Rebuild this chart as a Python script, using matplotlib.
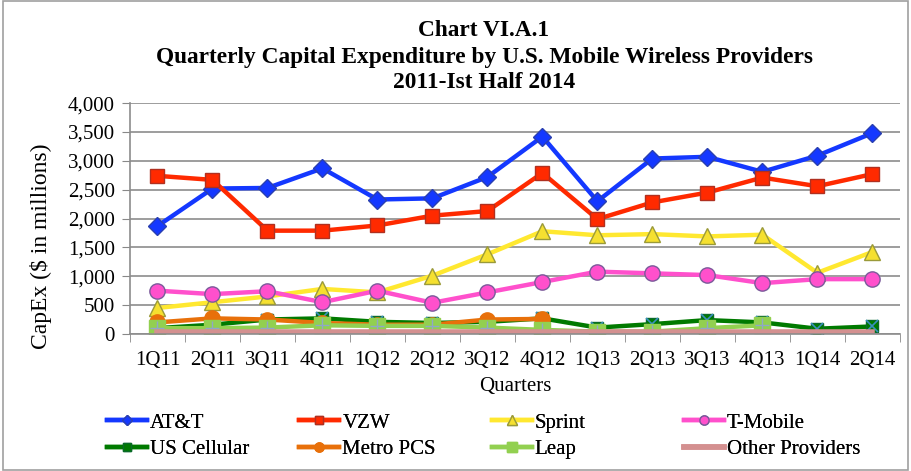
import matplotlib.pyplot as plt
from matplotlib.patches import Rectangle
from matplotlib.ticker import FuncFormatter, FixedLocator

# Data ($ millions)
quarters = ['1Q11', '2Q11', '3Q11', '4Q11', '1Q12', '2Q12', '3Q12',
            '4Q12', '1Q13', '2Q13', '3Q13', '4Q13', '1Q14', '2Q14']
att = [1870, 2520, 2530, 2870, 2330, 2350, 2720, 3420, 2300, 3040, 3070, 2810, 3090, 3480]
vzw = [2740, 2670, 1790, 1790, 1880, 2050, 2130, 2790, 1990, 2280, 2450, 2710, 2560, 2770]
sprint = [450, 550, 650, 780, 720, 1010, 1380, 1780, 1710, 1730, 1690, 1720, 1060, 1420]
tmobile = [750, 690, 740, 550, 750, 540, 720, 900, 1080, 1050, 1020, 880, 950, 950]
uscellular = [100, 160, 250, 270, 210, 190, 210, 270, 110, 170, 240, 200, 90, 130]
metropcs = [200, 270, 250, 190, 160, 160, 250, 260]
leap = [100, 100, 110, 150, 140, 140, 110, 70, 40, 40, 100, 150]
other = [30] * 14

plt.rcParams['font.family'] = ['Liberation Serif', 'DejaVu Serif']

fig = plt.figure(figsize=(9.11, 4.71), dpi=100)
ax = fig.add_axes([0.1427, 0.291, 0.845, 0.49])

x = list(range(len(quarters)))

h_att, = ax.plot(x, att, color='#1438FF', lw=3.2, marker='D', ms=9, mfc='#1438FF', mec='#2A3FB0', label='AT&T')
h_vzw, = ax.plot(x, vzw, color='#FF2A00', lw=3.2, marker='s', ms=10, mfc='#FF2A00', mec='#B03020', label='VZW')
h_spr, = ax.plot(x, sprint, color='#FFE830', lw=3.2, marker='^', ms=11, mfc='#F5E030', mec='#9A9A3A', label='Sprint')
h_tmo, = ax.plot(x, tmobile, color='#FF50CC', lw=3.2, marker='o', ms=11, mfc='#FF50CC', mec='#7A5A9A', label='T-Mobile')
h_usc, = ax.plot(x, uscellular, color='#007A00', lw=3.2, marker='s', ms=9, mfc='#007A00', mec='#0A6A2A', label='US Cellular')
ax.plot(x, uscellular, ls='none', marker='x', ms=8, mew=1.2, color='#3A8FC0')
h_mpc, = ax.plot(x[:len(metropcs)], metropcs, color='#E8700A', lw=3.2, marker='o', ms=11, mfc='#E8700A', mec='#E8700A', label='Metro PCS')
h_lea, = ax.plot(x[:len(leap)], leap, color='#92D050', lw=3.2, marker='s', ms=11, mfc='#92D050', mec='#92D050', label='Leap')
ax.plot(x[:len(leap)], leap, ls='none', marker='+', ms=10, mew=1.0, color='#8FA8C8')
h_oth, = ax.plot(x, other, color='#D49090', lw=4, label='Other Providers')

ax.set_xlim(-0.5, len(quarters) - 0.5)
ax.set_ylim(0, 4000)
ax.set_yticks(range(0, 4001, 500))
ax.yaxis.set_major_formatter(FuncFormatter(lambda v, p: f'{int(v):,}'))
ax.set_xticks(x)
ax.set_xticklabels(quarters)
ax.xaxis.set_minor_locator(FixedLocator([i - 0.5 for i in range(len(quarters) + 1)]))
ax.tick_params(axis='x', which='major', length=0, labelsize=15, pad=12)
ax.tick_params(axis='x', which='minor', length=6, color='#888888')
ax.tick_params(axis='y', labelsize=15, length=6, color='#888888', pad=5)
ax.grid(axis='y', color='#8C8C8C', lw=1.2)
ax.set_axisbelow(True)
for s in ['top', 'right']:
    ax.spines[s].set_visible(False)
for s in ['left', 'bottom']:
    ax.spines[s].set_color('#8C8C8C')
    ax.spines[s].set_linewidth(1.2)

ax.set_ylabel('CapEx ($ in millions)', fontsize=17)
ax.yaxis.set_label_coords(-0.101, 0.382)
ax.set_xlabel('Quarters', fontsize=15)
ax.xaxis.set_label_coords(0.5, -0.188)

titles = ['Chart VI.A.1',
          'Quarterly Capital Expenditure by U.S. Mobile Wireless Providers',
          '2011-Ist Half 2014']
for i, t in enumerate(titles):
    fig.text(484 / 911, 1 - (31 + 26 * i) / 471, t, ha='center', va='center',
             fontsize=16.8, fontweight='bold')

# legend, one column at a time so the columns sit at even steps
cols = [[h_att, h_usc], [h_vzw, h_mpc], [h_spr, h_lea], [h_tmo, h_oth]]
for i, hs in enumerate(cols):
    leg = fig.legend(handles=hs, loc='upper left',
                     bbox_to_anchor=((107 + 192.3 * i) / 911, 1 - 413 / 471),
                     frameon=False, fontsize=15, handlelength=1.92, handletextpad=0.15,
                     labelspacing=0.35, borderaxespad=0, borderpad=0, markerscale=0.6)
    fig.add_artist(leg)

fig.add_artist(Rectangle((0.003, 0.003), 0.994, 0.994, transform=fig.transFigure,
                         fill=False, edgecolor='#A0A0A0', lw=1.2))

fig.savefig('out.png', dpi=100)
